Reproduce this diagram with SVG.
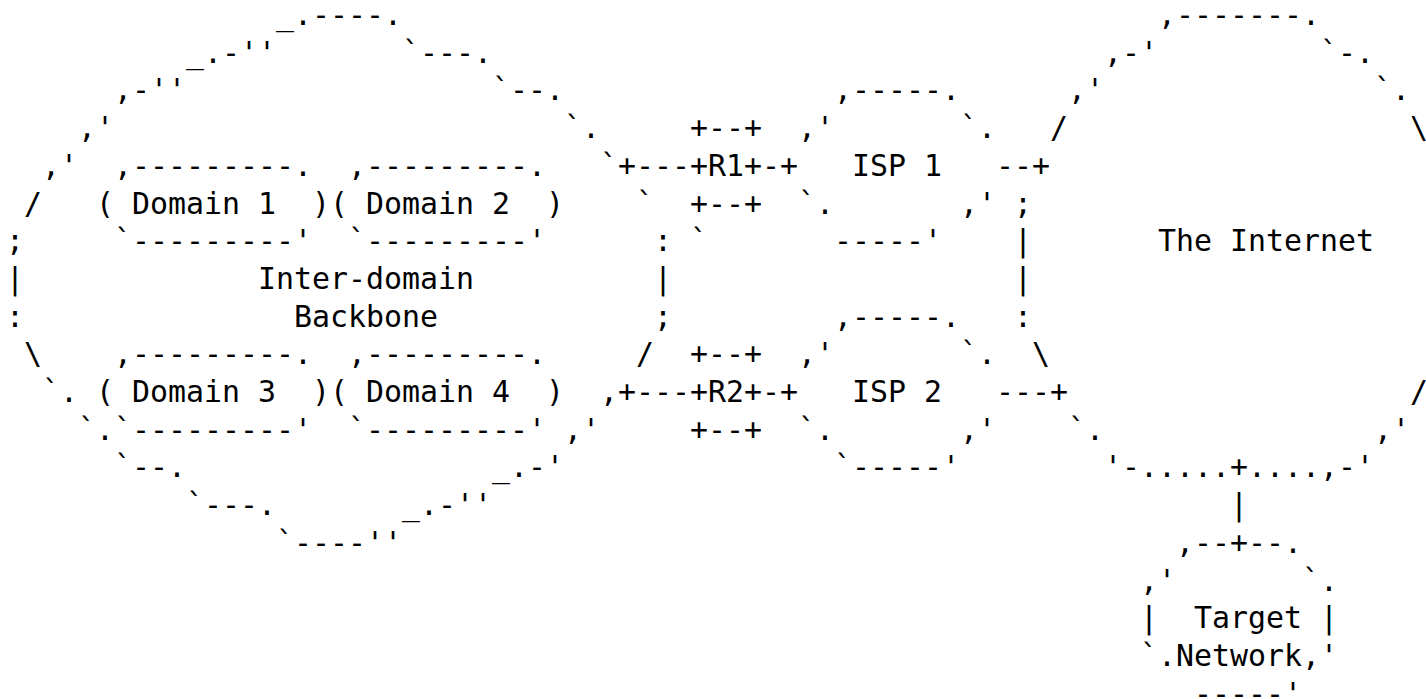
<svg xmlns="http://www.w3.org/2000/svg" width="1426" height="699" viewBox="0 0 1426 699" xml:space="preserve">
<style>
text{font-family:"DejaVu Sans Mono","Liberation Mono",monospace;font-size:29.9px;fill:#000;white-space:pre}
</style>
<rect width="1426" height="699" fill="#fff"/>
<g id="backbone">
<text x="276" y="25">_.----.</text>
<text x="186" y="62.7">_.-''</text><text x="402" y="62.7">`---.</text>
<text x="114" y="100.4">,-''</text><text x="492" y="100.4">`--.</text>
<text x="78" y="138.1">,'</text><text x="564" y="138.1">`.</text>
<text x="42" y="175.8">,'</text><text x="600" y="175.8">`</text>
<text x="24" y="213.5">/</text><text x="636" y="213.5">`</text>
<text x="6" y="251.2">;</text><text x="654" y="251.2">:</text><text x="690" y="251.2">`</text>
<text x="6" y="288.9">|</text><text x="258" y="288.9">Inter-domain</text><text x="654" y="288.9">|</text>
<text x="6" y="326.6">:</text><text x="294" y="326.6">Backbone</text><text x="654" y="326.6">;</text>
<text x="24" y="364.3">\</text><text x="636" y="364.3">/</text>
<text x="42" y="402">`.</text><text x="600" y="402">,</text>
<text x="78" y="439.7">`.</text><text x="564" y="439.7">,'</text>
<text x="114" y="477.4">`--.</text><text x="492" y="477.4">_.-'</text>
<text x="186" y="515.1">`---.</text><text x="402" y="515.1">_.-''</text>
<text x="276" y="552.8">`----''</text>
</g>
<g id="domain1">
<text x="114" y="175.8">,---------.</text>
<text x="96" y="213.5">( Domain 1  )</text>
<text x="114" y="251.2">`---------'</text>
</g>
<g id="domain2">
<text x="348" y="175.8">,---------.</text>
<text x="330" y="213.5">( Domain 2  )</text>
<text x="348" y="251.2">`---------'</text>
</g>
<g id="domain3">
<text x="114" y="364.3">,---------.</text>
<text x="96" y="402">( Domain 3  )</text>
<text x="114" y="439.7">`---------'</text>
</g>
<g id="domain4">
<text x="348" y="364.3">,---------.</text>
<text x="330" y="402">( Domain 4  )</text>
<text x="348" y="439.7">`---------'</text>
</g>
<g id="r1">
<text x="690" y="138.1">+--+</text>
<text x="690" y="175.8">+R1+</text>
<text x="690" y="213.5">+--+</text>
</g>
<g id="r2">
<text x="690" y="364.3">+--+</text>
<text x="690" y="402">+R2+</text>
<text x="690" y="439.7">+--+</text>
</g>
<g id="isp1">
<text x="834" y="100.4">,-----.</text>
<text x="798" y="138.1">,'</text><text x="960" y="138.1">`.</text>
<text x="852" y="175.8">ISP 1</text>
<text x="798" y="213.5">`.</text><text x="960" y="213.5">,'</text>
<text x="834" y="251.2">-----'</text>
</g>
<g id="isp2">
<text x="834" y="326.6">,-----.</text>
<text x="798" y="364.3">,'</text><text x="960" y="364.3">`.</text>
<text x="852" y="402">ISP 2</text>
<text x="798" y="439.7">`.</text><text x="960" y="439.7">,'</text>
<text x="834" y="477.4">`-----'</text>
</g>
<g id="internet">
<text x="1158" y="25">,-------.</text>
<text x="1104" y="62.7">,-'</text><text x="1320" y="62.7">`-.</text>
<text x="1068" y="100.4">,'</text><text x="1374" y="100.4">`.</text>
<text x="1050" y="138.1">/</text><text x="1410" y="138.1">\</text>
<text x="1032" y="175.8">+</text>
<text x="1014" y="213.5">;</text>
<text x="1014" y="251.2">|</text><text x="1158" y="251.2">The Internet</text>
<text x="1014" y="288.9">|</text>
<text x="1014" y="326.6">:</text>
<text x="1032" y="364.3">\</text>
<text x="1050" y="402">+</text><text x="1410" y="402">/</text>
<text x="1068" y="439.7">`.</text><text x="1374" y="439.7">,'</text>
<text x="1104" y="477.4">'-.....+....,-'</text>
</g>
<g id="target">
<text x="1176" y="552.8">,--+--.</text>
<text x="1140" y="590.5">,'</text><text x="1302" y="590.5">`.</text>
<text x="1140" y="628.2">|  Target |</text>
<text x="1140" y="665.9">`.Network,'</text>
<text x="1194" y="703.6">-----'</text>
</g>
<g id="connectors">
<text x="618" y="175.8">+---</text><text x="762" y="175.8">-+</text><text x="996" y="175.8">--</text>
<text x="618" y="402">+---</text><text x="762" y="402">-+</text><text x="996" y="402">---</text>
<text x="1230" y="515.1">|</text>
</g>
</svg>
